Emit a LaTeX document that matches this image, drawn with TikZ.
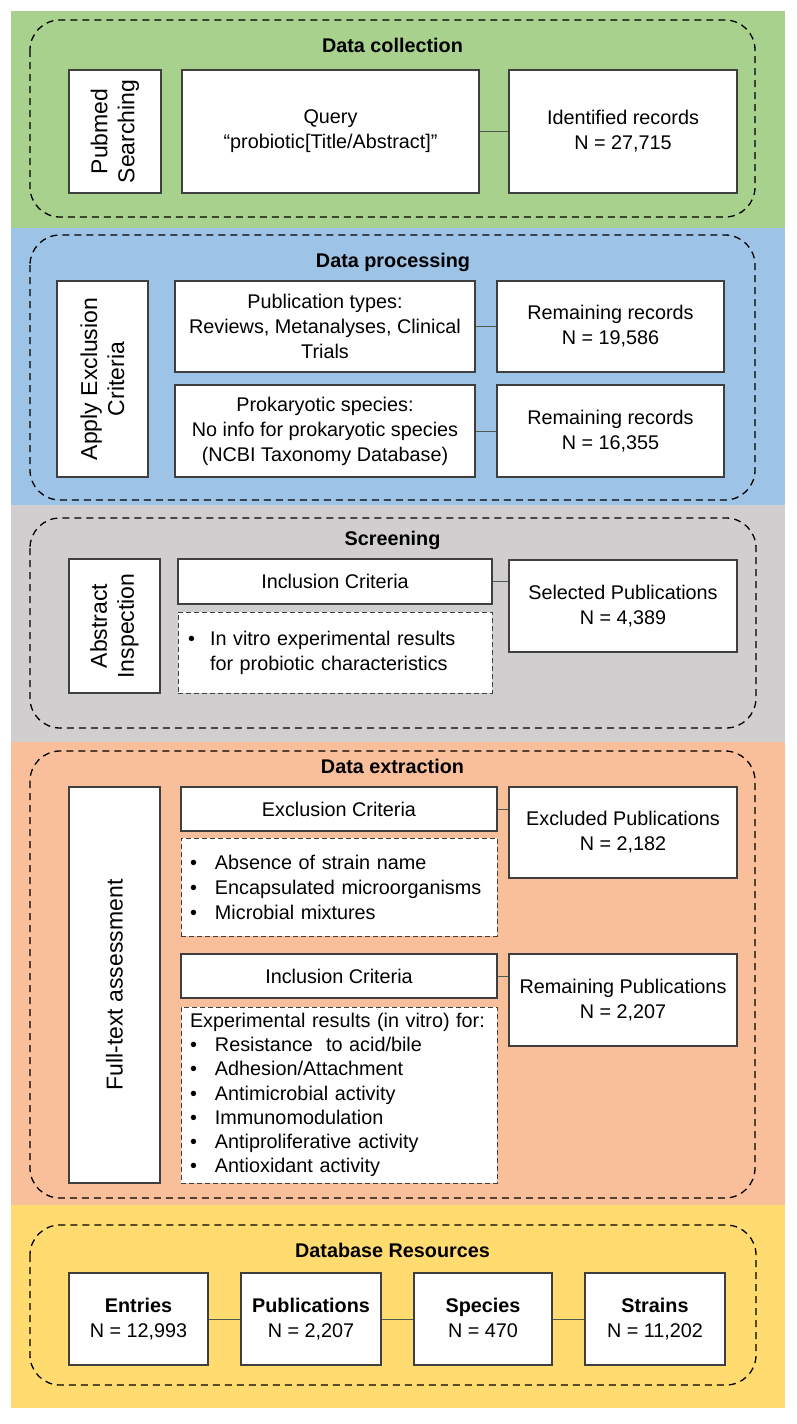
\documentclass[tikz,border=0pt]{standalone}
\usepackage{fontspec}
\setmainfont{Liberation Sans}
\usepackage{xcolor}
\usepackage{tikz}
\usetikzlibrary{calc}

\definecolor{collectbg}{HTML}{A9D18E}
\definecolor{processbg}{HTML}{9DC3E6}
\definecolor{screenbg}{HTML}{D0CECE}
\definecolor{extractbg}{HTML}{F8BF9A}
\definecolor{resourcebg}{HTML}{FFDB70}
\definecolor{boxline}{HTML}{3F3F3F}
\definecolor{linkline}{HTML}{4F5A4F}
\newcommand{\diagfont}{\fontsize{19.8}{25}\selectfont}
\newcommand{\sidefont}{\fontsize{23}{27}\selectfont}
\newcommand{\bul}{\makebox[25pt][l]{\textbullet}}

\begin{document}
\begin{tikzpicture}[x=1pt,y=-1pt,
    every node/.append style={font=\diagfont},
    box/.style={draw=boxline,line width=1.2pt,fill=white,align=center,inner sep=2pt},
    sidebox/.style={box,rotate=90,font=\sidefont},
    listbox/.style={draw=boxline,line width=1pt,dash pattern=on 5pt off 3pt,fill=white,align=left,inner xsep=9pt},
    frame/.style={draw=black,line width=1.3pt,dash pattern=on 7pt off 5pt,rounded corners=30pt},
    title/.style={font=\diagfont\bfseries,anchor=base},
    link/.style={draw=linkline,line width=0.9pt}]
    \useasboundingbox (0,0) rectangle (796,1424);

    % Bands
    \fill[collectbg] (11,11) rectangle (785,228);
    \fill[processbg] (11,228) rectangle (785,505);
    \fill[screenbg] (11,505) rectangle (785,742);
    \fill[extractbg] (11,742) rectangle (785,1205);
    \fill[resourcebg] (11,1205) rectangle (785,1408);

    % Data collection
    \draw[frame] (30,20) rectangle (755,217);
    \node[title] (collect) at (392.5,52) {Data collection};
    \node[sidebox,minimum width=123pt,minimum height=92pt] (pubmed) at (115,131.5) {Pubmed\\Searching};
    \node[box,minimum width=297pt,minimum height=123pt] (query) at (330.5,131.5) {Query\\``probiotic[Title/Abstract]''};
    \node[box,minimum width=228pt,minimum height=123pt] (identified) at (623,131.5) {Identified records\\N = 27,715};
    \draw[link] (query) -- (identified);

    % Data processing
    \draw[frame] (30,235) rectangle (755,500);
    \node[title] (process) at (393,267) {Data processing};
    \node[sidebox,minimum width=196pt,minimum height=91pt] (apply) at (102.5,379) {Apply Exclusion\\Criteria};
    \node[box,minimum width=300pt,minimum height=91pt] (pubtypes) at (325,326.5) {Publication types:\\Reviews, Metanalyses, Clinical\\Trials};
    \node[box,minimum width=300pt,minimum height=92pt] (prokaryotic) at (325,431) {Prokaryotic species:\\No info for prokaryotic species\\(NCBI Taxonomy Database)};
    \node[box,minimum width=227pt,minimum height=91pt] (remainA) at (610.5,326.5) {Remaining records\\N = 19,586};
    \node[box,minimum width=227pt,minimum height=92pt] (remainB) at (610.5,431) {Remaining records\\N = 16,355};
    \draw[link] (pubtypes) -- (remainA);
    \draw[link] (prokaryotic) -- (remainB);

    % Screening
    \draw[frame] (30,518) rectangle (756,728);
    \node[title] (screen) at (392.5,545) {Screening};
    \node[sidebox,minimum width=134pt,minimum height=91pt] (abstract) at (114.5,626) {Abstract\\Inspection};
    \node[box,minimum width=314pt,minimum height=45pt] (inclA) at (335,581.5) {Inclusion Criteria};
    \node[listbox,minimum width=314pt,minimum height=81pt,text width=294pt,inner xsep=10pt] (inclAlist) at (335,652.5)
        {\makebox[22pt][l]{\textbullet}In vitro experimental results\\\makebox[22pt][l]{}for probiotic characteristics};
    \node[box,minimum width=228pt,minimum height=92pt] (selected) at (623,606) {Selected Publications\\N = 4,389};
    \draw[link] (inclA.east) -- (inclA.east -| selected.west);

    % Data extraction
    \draw[frame] (30,751) rectangle (755,1198);
    \node[title] (extract) at (392.5,773) {Data extraction};
    \node[sidebox,minimum width=396pt,minimum height=91pt] (fulltext) at (114.5,985) {Full-text assessment};
    \node[box,minimum width=316pt,minimum height=44pt] (excl) at (339,809) {Exclusion Criteria};
    \node[listbox,minimum width=316pt,minimum height=98pt,text width=298pt] (excllist) at (339,887)
        {\bul Absence of strain name\\\bul Encapsulated microorganisms\\\bul Microbial mixtures};
    \node[box,minimum width=316pt,minimum height=44pt] (inclB) at (339,976) {Inclusion Criteria};
    \node[listbox,minimum width=316pt,minimum height=176pt,text width=298pt,font=\fontsize{19.8}{24.2}\selectfont] (inclBlist) at (339,1095)
        {Experimental results (in vitro) for:\\\bul Resistance~ to acid/bile\\\bul Adhesion/Attachment\\\bul Antimicrobial activity\\\bul Immunomodulation\\\bul Antiproliferative activity\\\bul Antioxidant activity};
    \node[box,minimum width=228pt,minimum height=91pt] (excluded) at (623,832.5) {Excluded Publications\\N = 2,182};
    \node[box,minimum width=228pt,minimum height=92pt] (remaining) at (623,1000) {Remaining Publications\\N = 2,207};
    \draw[link] (excl.east) -- (excl.east -| excluded.west);
    \draw[link] (inclB.east) -- (inclB.east -| remaining.west);

    % Database resources
    \draw[frame] (30,1225) rectangle (756,1385);
    \node[title] (resource) at (392.5,1257) {Database Resources};
    \node[box,minimum width=139pt,minimum height=92pt] (entries) at (138.5,1319) {\textbf{Entries}\\N = 12,993};
    \node[box,minimum width=140pt,minimum height=92pt] (pubs) at (311,1319) {\textbf{Publications}\\N = 2,207};
    \node[box,minimum width=138pt,minimum height=92pt] (species) at (483,1319) {\textbf{Species}\\N = 470\vphantom{,}};
    \node[box,minimum width=140pt,minimum height=92pt] (strains) at (655,1319) {\textbf{Strains}\\N = 11,202};
    \draw[link] (entries) -- (pubs) -- (species) -- (strains);
\end{tikzpicture}
\end{document}
